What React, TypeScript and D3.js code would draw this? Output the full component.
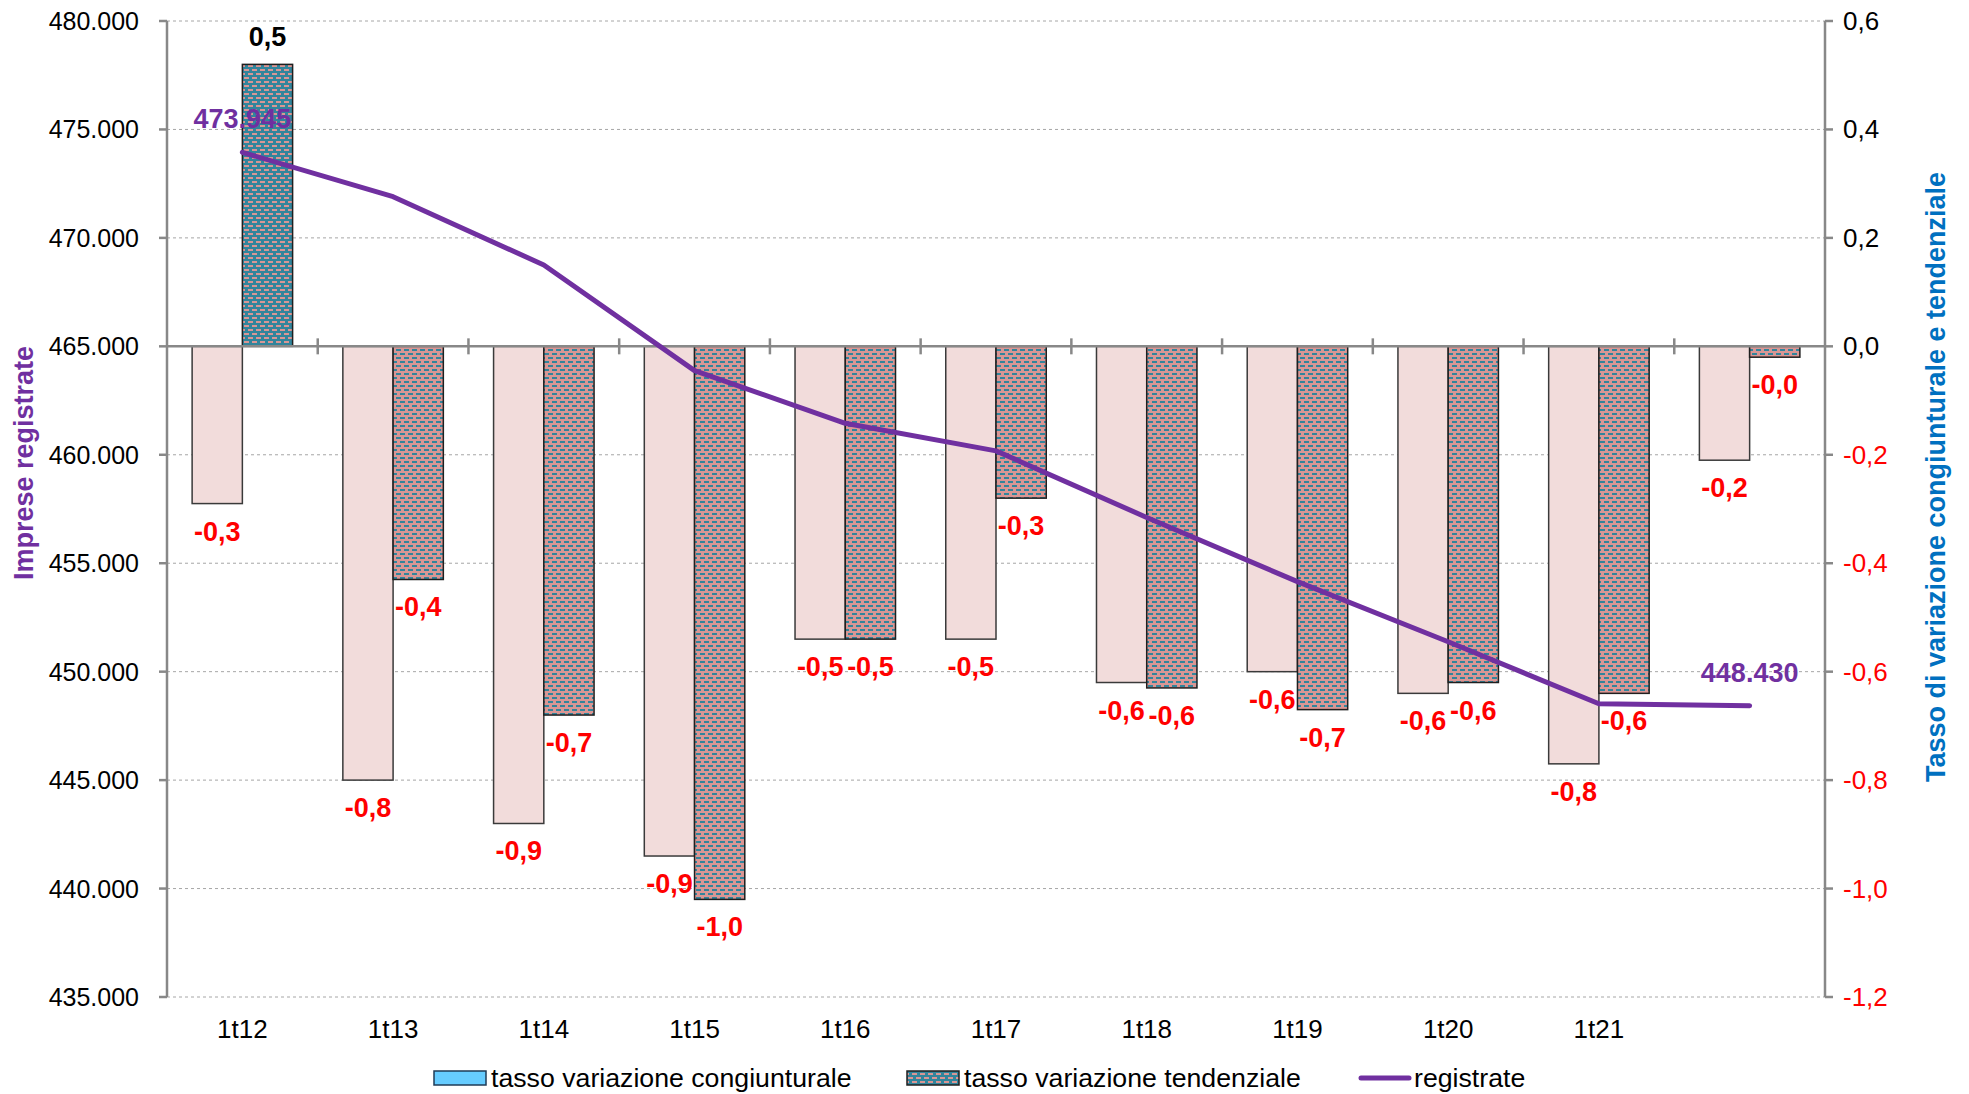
import React from 'react';
import * as d3 from 'd3';

const categories = ['1t12', '1t13', '1t14', '1t15', '1t16', '1t17', '1t18', '1t19', '1t20', '1t21', ''];
const congiunturale = [-0.29, -0.80, -0.88, -0.94, -0.54, -0.54, -0.62, -0.60, -0.64, -0.77, -0.21];
const tendenziale = [0.52, -0.43, -0.68, -1.02, -0.54, -0.28, -0.63, -0.67, -0.62, -0.64, -0.02];
const registrate = [473945, 471900, 468750, 463880, 461450, 460180, 457110, 454150, 451380, 448520, 448430];
const leftTicks = [435000, 440000, 445000, 450000, 455000, 460000, 465000, 470000, 475000, 480000];
const rightTicks = [-1.2, -1.0, -0.8, -0.6, -0.4, -0.2, 0.0, 0.2, 0.4, 0.6];

const W = 1969, H = 1094;
const L = 167, R = 1825, T = 21, B = 997;
const FONT = '"Liberation Sans", Arial, sans-serif';
const PURPLE = '#7030A0';
const TEAL = '#31859C';
const PINK = '#D99694';

const fmtDec = (v: number) => (v < 0 && Math.abs(v) >= 0.0001 ? '-' : '') + Math.abs(v).toFixed(1).replace('.', ',');
const fmtThousands = (v: number) => d3.format(',')(v).replace(/,/g, '.');

export default function App() {
  const x = d3.scaleBand<string>().domain(categories.map((c, i) => String(i))).range([L, R]).paddingInner(0).paddingOuter(0);
  const bw = x.bandwidth();
  const sub = d3.scaleBand<string>().domain(['c', 't']).range([bw / 6, (bw * 5) / 6]).padding(0);
  const yL = d3.scaleLinear().domain([435000, 480000]).range([B, T]);
  const yR = d3.scaleLinear().domain([-1.2, 0.6]).range([B, T]);
  const y0 = yR(0);

  const line = d3
    .line<number>()
    .x((_, i) => (x(String(i)) as number) + bw / 2)
    .y((d) => yL(d));

  const barLabel = (v: number, cx: number, color: string, key: string) => {
    const yy = v >= 0 ? yR(v) - 27 : yR(v) + 28;
    return (
      <text key={key} x={cx} y={yy} textAnchor="middle" dominantBaseline="central" fontFamily={FONT} fontWeight="bold" fontSize={27} fill={color}>
        {fmtDec(v)}
      </text>
    );
  };

  const last = registrate.length - 1;

  return (
    <svg width={W} height={H} style={{ position: 'absolute', left: 0, top: 0, background: '#fff' }}>
      <defs>
        <pattern id="patNeg" patternUnits="userSpaceOnUse" width={8} height={8}>
          <rect width={8} height={8} fill={PINK} />
          <rect x={0} y={1} width={5} height={2} fill={TEAL} />
          <rect x={4} y={5} width={5} height={2} fill={TEAL} />
          <rect x={-4} y={5} width={5} height={2} fill={TEAL} />
        </pattern>
        <pattern id="patPos" patternUnits="userSpaceOnUse" width={8} height={8}>
          <rect width={8} height={8} fill={TEAL} />
          <rect x={0} y={1} width={5} height={2} fill={PINK} />
          <rect x={4} y={5} width={5} height={2} fill={PINK} />
          <rect x={-4} y={5} width={5} height={2} fill={PINK} />
        </pattern>
      </defs>

      {/* gridlines */}
      {leftTicks.map((t) => (
        <line key={'g' + t} x1={L} x2={R} y1={yL(t)} y2={yL(t)} stroke="#A6A6A6" strokeWidth={1} strokeDasharray="3,3" />
      ))}

      {/* bars */}
      {categories.map((c, i) => {
        const x0 = x(String(i)) as number;
        const xc = x0 + (sub('c') as number);
        const xt = x0 + (sub('t') as number);
        const sw = sub.bandwidth();
        const vc = congiunturale[i];
        const vt = tendenziale[i];
        return (
          <g key={'b' + i}>
            <rect x={xc} y={Math.min(yR(vc), y0)} width={sw} height={Math.abs(yR(vc) - y0)} fill="#F2DCDB" stroke="#3a3a3a" strokeWidth={1.5} />
            <rect x={xt} y={Math.min(yR(vt), y0)} width={sw} height={Math.abs(yR(vt) - y0)} fill={vt >= 0 ? 'url(#patPos)' : 'url(#patNeg)'} stroke="#1f1f1f" strokeWidth={1.5} />
          </g>
        );
      })}

      {/* zero axis */}
      <line x1={L} x2={R} y1={y0} y2={y0} stroke="#888" strokeWidth={2.5} />
      {categories.map((c, i) =>
        i === 0 ? null : (
          <line key={'ct' + i} x1={x(String(i)) as number} x2={x(String(i)) as number} y1={y0 - 8} y2={y0 + 8} stroke="#888" strokeWidth={2.5} />
        )
      )}

      {/* left axis */}
      <line x1={L} x2={L} y1={T} y2={B} stroke="#888" strokeWidth={2.5} />
      {leftTicks.map((t) => (
        <g key={'lt' + t}>
          <line x1={L - 8} x2={L} y1={yL(t)} y2={yL(t)} stroke="#888" strokeWidth={2.5} />
          <text x={139} y={yL(t)} textAnchor="end" dominantBaseline="central" fontFamily={FONT} fontSize={25} fill="#000">
            {fmtThousands(t)}
          </text>
        </g>
      ))}

      {/* right axis */}
      <line x1={R} x2={R} y1={T} y2={B} stroke="#888" strokeWidth={2.5} />
      {rightTicks.map((t) => (
        <g key={'rt' + t}>
          <line x1={R} x2={R + 8} y1={yR(t)} y2={yR(t)} stroke="#888" strokeWidth={2.5} />
          <text x={1843} y={yR(t)} textAnchor="start" dominantBaseline="central" fontFamily={FONT} fontSize={26} fill={t < -0.001 ? '#FF0000' : '#000'}>
            {fmtDec(t)}
          </text>
        </g>
      ))}

      {/* x labels */}
      {categories.map((c, i) => (
        <text key={'xl' + i} x={(x(String(i)) as number) + bw / 2} y={1029} textAnchor="middle" dominantBaseline="central" fontFamily={FONT} fontSize={26} fill="#000">
          {c}
        </text>
      ))}

      {/* line */}
      <path d={line(registrate) || ''} fill="none" stroke={PURPLE} strokeWidth={5} strokeLinecap="round" strokeLinejoin="round" />

      {/* bar labels */}
      {categories.map((c, i) => {
        const x0 = x(String(i)) as number;
        const sw = sub.bandwidth();
        const cxC = x0 + (sub('c') as number) + sw / 2;
        const cxT = x0 + (sub('t') as number) + sw / 2;
        return (
          <g key={'bl' + i}>
            {barLabel(congiunturale[i], cxC, congiunturale[i] >= 0 ? '#000' : '#FF0000', 'c' + i)}
            {barLabel(tendenziale[i], cxT, tendenziale[i] >= 0 ? '#000' : '#FF0000', 't' + i)}
          </g>
        );
      })}

      {/* line labels */}
      <text x={(x('0') as number) + bw / 2} y={yL(registrate[0]) - 33} textAnchor="middle" dominantBaseline="central" fontFamily={FONT} fontWeight="bold" fontSize={27} fill={PURPLE}>
        {fmtThousands(registrate[0])}
      </text>
      <text x={(x(String(last)) as number) + bw / 2} y={yL(registrate[last]) - 33} textAnchor="middle" dominantBaseline="central" fontFamily={FONT} fontWeight="bold" fontSize={27} fill={PURPLE}>
        {fmtThousands(registrate[last])}
      </text>

      {/* axis titles */}
      <text transform="translate(24,463) rotate(-90)" textAnchor="middle" dominantBaseline="central" fontFamily={FONT} fontWeight="bold" fontSize={27} fill={PURPLE}>
        Imprese registrate
      </text>
      <text transform="translate(1936,477) rotate(-90)" textAnchor="middle" dominantBaseline="central" fontFamily={FONT} fontWeight="bold" fontSize={27} fill="#0070C0">
        Tasso di variazione congiunturale e tendenziale
      </text>

      {/* legend */}
      <g fontFamily={FONT} fontSize={26.7} fill="#000">
        <rect x={434} y={1071} width={52} height={14} fill="#66CCFF" stroke="#1f3b57" strokeWidth={1.5} />
        <text x={491} y={1078} dominantBaseline="central">tasso variazione congiunturale</text>
        <rect x={907} y={1071} width={52} height={14} fill="url(#patPos)" stroke="#1f1f1f" strokeWidth={1.5} />
        <text x={964} y={1078} dominantBaseline="central">tasso variazione tendenziale</text>
        <line x1={1361} x2={1409} y1={1078} y2={1078} stroke={PURPLE} strokeWidth={5} strokeLinecap="round" />
        <text x={1414} y={1078} dominantBaseline="central">registrate</text>
      </g>
    </svg>
  );
}
